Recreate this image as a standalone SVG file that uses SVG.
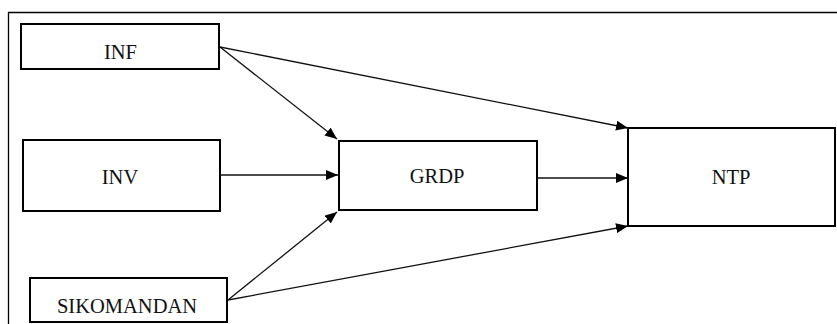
<svg xmlns="http://www.w3.org/2000/svg" width="837" height="324" viewBox="0 0 837 324">
  <style>
    .box { fill: #fff; stroke: #000; stroke-width: 2; }
    .lbl { font-family: 'Liberation Serif', 'Times New Roman', serif; font-size: 20.5px; fill: #111; text-anchor: middle; }
    .edge { fill: none; stroke: #111; stroke-width: 1.3; marker-end: url(#arrow); }
  </style>
  <defs>
    <marker id="arrow" viewBox="0 0 12 10" refX="12" refY="5" markerWidth="12" markerHeight="10" markerUnits="userSpaceOnUse" orient="auto">
      <path d="M0,0 L12,5 L0,10 Z" fill="#000"/>
    </marker>
  </defs>
  <rect width="837" height="324" fill="#fff"/>
  <!-- outer frame -->
  <path d="M8.5,324 V12.5 H837" fill="none" stroke="#000" stroke-width="1.3"/>

  <g id="connectors">
    <line class="edge" x1="220" y1="47" x2="337" y2="139"/>
    <line class="edge" x1="220" y1="47" x2="628" y2="128"/>
    <line class="edge" x1="221" y1="175" x2="338" y2="175"/>
    <line class="edge" x1="538" y1="178" x2="628" y2="178"/>
    <line class="edge" x1="228" y1="300" x2="337" y2="212"/>
    <line class="edge" x1="228" y1="300" x2="628" y2="226"/>
  </g>

  <g id="INF">
    <rect class="box" x="21" y="24" width="198" height="45"/>
    <text class="lbl" x="120.5" y="58.5">INF</text>
  </g>
  <g id="INV">
    <rect class="box" x="23" y="140" width="197" height="71"/>
    <text class="lbl" x="120" y="184">INV</text>
  </g>
  <g id="SIKOMANDAN">
    <rect class="box" x="30" y="278" width="197" height="44"/>
    <text class="lbl" x="127" y="312.5">SIKOMANDAN</text>
  </g>
  <g id="GRDP">
    <rect class="box" x="339" y="141" width="198" height="69"/>
    <text class="lbl" x="437" y="183">GRDP</text>
  </g>
  <g id="NTP">
    <rect class="box" x="628" y="128" width="207" height="98"/>
    <text class="lbl" x="731" y="184">NTP</text>
  </g>
</svg>
